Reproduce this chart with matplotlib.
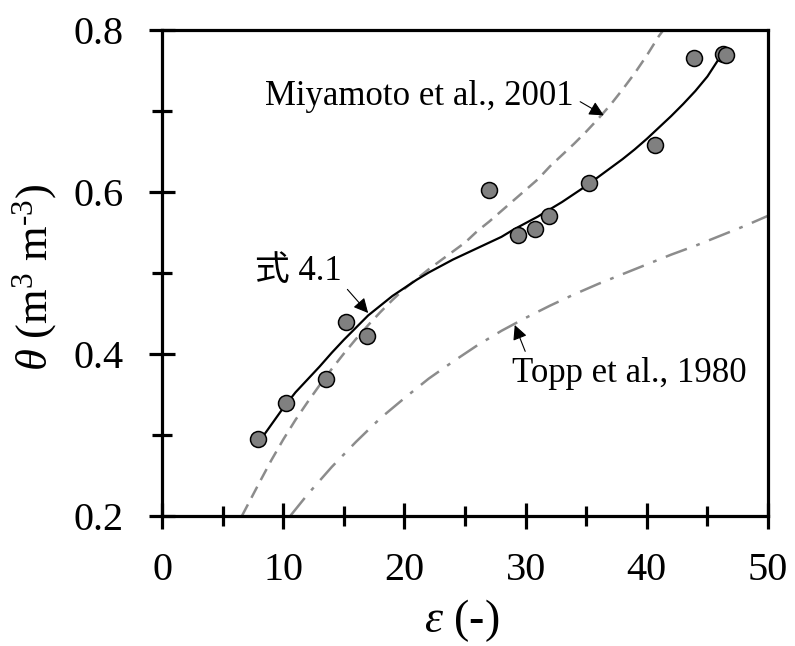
import matplotlib
matplotlib.use("Agg")
import matplotlib.pyplot as plt

plt.rcParams['font.family'] = ['Liberation Serif', 'Noto Sans CJK JP']
plt.rcParams['mathtext.fontset'] = 'custom'
plt.rcParams['mathtext.rm'] = 'Liberation Serif'
plt.rcParams['mathtext.it'] = 'Liberation Serif:italic'

# measured points
eps_obs = [7.9, 10.2, 13.5, 15.2, 16.9, 27.0, 29.4, 30.8, 31.9, 35.2, 40.7, 43.9, 46.3, 46.5]
theta_obs = [0.294, 0.339, 0.368, 0.439, 0.422, 0.602, 0.546, 0.554, 0.570, 0.611,
             0.658, 0.765, 0.770, 0.768]

# fitted curve (式 4.1)
eps_fit = [8, 9, 10, 11, 12, 13, 14, 15, 16, 17, 18, 19, 20, 21, 22, 23, 24, 25, 26,
           27, 28, 29, 30, 31, 32, 33, 34, 35, 36, 37, 38, 39, 40, 41, 42, 43, 44,
           45, 46, 46.3]
theta_fit = [0.291, 0.312, 0.333, 0.352, 0.368, 0.384, 0.401, 0.417, 0.432, 0.447,
             0.459, 0.471, 0.481, 0.491, 0.500, 0.508, 0.516, 0.523, 0.530, 0.537,
             0.544, 0.553, 0.561, 0.569, 0.578, 0.587, 0.597, 0.607, 0.618, 0.629,
             0.640, 0.652, 0.665, 0.679, 0.693, 0.708, 0.724, 0.742, 0.765, 0.772]

# Miyamoto et al., 2001
eps_miya = [6.6, 8, 9, 10, 11, 12, 13, 14, 15, 16, 17, 18, 19, 20, 21, 22, 23, 24,
            25, 26, 27, 28, 29, 30, 31, 32, 33, 34, 35, 36, 37, 38, 39, 40, 41, 41.4]
theta_miya = [0.200, 0.240, 0.268, 0.294, 0.318, 0.340, 0.361, 0.381, 0.400, 0.418,
              0.435, 0.451, 0.466, 0.480, 0.492, 0.504, 0.515, 0.526, 0.537, 0.551,
              0.563, 0.576, 0.589, 0.602, 0.615, 0.631, 0.645, 0.659, 0.674, 0.690,
              0.707, 0.726, 0.746, 0.768, 0.792, 0.800]

# Topp et al., 1980
eps_topp = [10.6, 12, 14, 16, 18, 20, 22, 24, 26, 28, 30, 32, 34, 36, 38, 40, 42,
            44, 46, 48, 50]
theta_topp = [0.200, 0.226, 0.260, 0.291, 0.320, 0.345, 0.369, 0.390, 0.410, 0.428,
              0.444, 0.459, 0.473, 0.486, 0.498, 0.510, 0.522, 0.533, 0.545, 0.557,
              0.570]

fig = plt.figure(figsize=(7.95, 6.46), dpi=100)
ax = fig.add_axes([0.204, 0.202, 0.762, 0.7523])

ax.plot(eps_miya, theta_miya, color='#8c8c8c', lw=1.8, dashes=(5, 3), zorder=2)
ax.plot(eps_topp, theta_topp, color='#8c8c8c', lw=1.8, dashes=(9, 4, 1.5, 4), zorder=2)
ax.plot(eps_fit, theta_fit, color='black', lw=1.6, zorder=3)
ax.plot(eps_obs, theta_obs, 'o', ms=11.5, mfc='#808080', mec='black', mew=1.1, zorder=4)

ax.set_xlim(0, 50)
ax.set_ylim(0.2, 0.8)
ax.set_xticks([0, 10, 20, 30, 40, 50])
ax.set_xticks([5, 15, 25, 35, 45], minor=True)
ax.set_yticks([0.2, 0.4, 0.6, 0.8])
ax.set_yticks([0.3, 0.5, 0.7], minor=True)
ax.set_yticklabels(['0.2', '0.4', '0.6', '0.8'])

for s in ax.spines.values():
    s.set_linewidth(2.3)
ax.tick_params(which='major', direction='inout', length=19, width=2.3, labelsize=29)
ax.tick_params(which='minor', direction='inout', length=14.5, width=2.3)
ax.tick_params(axis='x', which='major', pad=17)
ax.tick_params(axis='y', which='major', pad=18)

ax.set_xlabel(r'$\varepsilon$ (-)', fontsize=33)
ax.xaxis.set_label_coords(0.495, -0.168)
ax.set_ylabel(r'$\theta$ (m$^3$ m$^{\text{-}3}$)', fontsize=32)
ax.yaxis.set_label_coords(-0.17, 0.489)

arrow = dict(arrowstyle='-|>', color='black', lw=0.8, mutation_scale=22)
ax.annotate('Miyamoto et al., 2001', xy=(36.45, 0.694), xytext=(8.5, 0.707),
            ha='left', va='baseline', fontsize=25,
            arrowprops=dict(arrow, relpos=(1.0, 0.45), shrinkA=3, shrinkB=0))
ax.annotate('式 4.1', xy=(17.0, 0.450), xytext=(7.67, 0.4907),
            ha='left', va='baseline', fontsize=25,
            arrowprops=dict(arrow, relpos=(1.0, 0.15), shrinkA=3, shrinkB=0))
ax.annotate('Topp et al., 1980', xy=(29.1, 0.4352), xytext=(28.88, 0.3652),
            ha='left', va='baseline', fontsize=25,
            arrowprops=dict(arrow, relpos=(0.065, 1.0), shrinkA=2, shrinkB=0))

fig.savefig('out.png', dpi=100)
